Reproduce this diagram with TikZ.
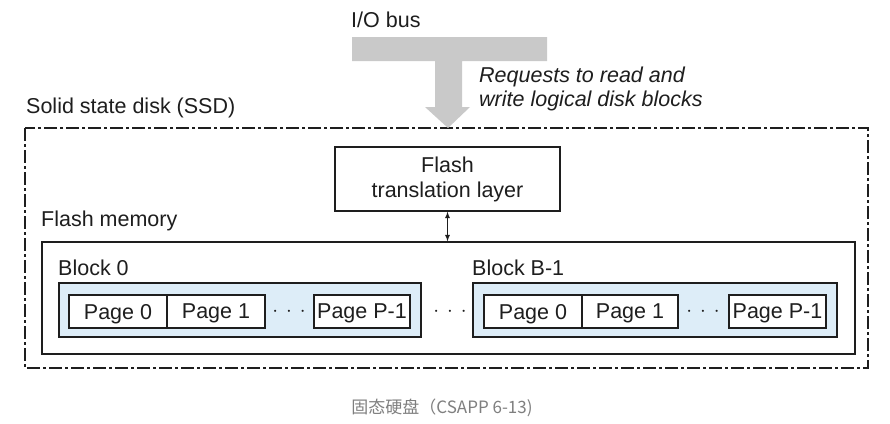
\documentclass[tikz,border=0pt]{standalone}
\usepackage{fontspec}
\setmainfont{Liberation Sans}
\newfontfamily\cjk{Noto Sans CJK SC}
\usepackage{tikz}

\definecolor{ink}{HTML}{1E1E1E}
\definecolor{busgray}{HTML}{C9C9C9}
\definecolor{blockblue}{HTML}{DDEDF8}
\definecolor{capgray}{HTML}{7F7F7F}

\tikzset{
    lbl/.style={font=\fontsize{21.5}{25}\selectfont, text=ink, inner sep=0pt},
    page/.style={lbl, draw=ink, line width=1.3pt, fill=white, minimum height=33pt, text depth=0pt},
    blockbox/.style={draw=ink, line width=1.3pt, fill=blockblue, minimum height=54pt},
    dashdot/.style={line width=1.6pt, dash pattern=on 13pt off 3pt on 3pt off 3pt}
}

\begin{document}
\begin{tikzpicture}[x=1pt,y=-1pt]
    \useasboundingbox (0,0) rectangle (890,423);
    \fill[white] (0,0) rectangle (890,423);

    \draw[dashdot,draw=ink] (25,128) rectangle (868,368);
    \fill[busgray] (352,37) -- (547,37) -- (547,61) -- (462,61) -- (462,107) -- (470,107)
        -- (448,128) -- (425,107) -- (435,107) -- (435,61) -- (352,61) -- cycle;

    \node[lbl,anchor=west] (bus) at (351,20) {I/O bus};
    \node[lbl,anchor=west,align=left,font=\fontsize{21.5}{24}\selectfont\itshape] (req) at (479,89)
        {Requests to read and\\write logical disk blocks};
    \node[lbl,anchor=west] (ssd) at (26,108) {Solid state disk (SSD)};

    \node[draw=ink,line width=1.3pt,fill=white,lbl,align=center,minimum width=225pt,minimum height=64pt] (ftl) at (447.5,179)
        {Flash\\translation layer};
    \node[lbl,anchor=west] (memlbl) at (41,221) {Flash memory};
    \node[draw=ink,line width=1.3pt,minimum width=813pt,minimum height=112pt] (mem) at (448.5,298) {};
    \draw[<->,>=latex,line width=1.2pt,draw=ink] (ftl.south) -- (ftl.south |- mem.north);

    \node[lbl,anchor=west] (blk0lbl) at (58,268) {Block 0};
    \node[blockbox,minimum width=362pt] (blk0) at (240,310) {};
    \node[page,minimum width=98pt] (b0p0) at (118,311.5) {Page 0};
    \node[page,minimum width=98pt] (b0p1) at (216,311.5) {Page 1};
    \node[lbl] (b0dots) at (289,312) {$\cdot\,\cdot\,\cdot$};
    \node[page,minimum width=96pt] (b0pn) at (362,311.5) {Page P-1};

    \node[lbl] (blkdots) at (450,312) {$\cdot\,\cdot\,\cdot$};

    \node[lbl,anchor=west] (blknlbl) at (472,268) {Block B-1};
    \node[blockbox,minimum width=364pt] (blkn) at (655,310) {};
    \node[page,minimum width=98pt] (bnp0) at (533,311.5) {Page 0};
    \node[page,minimum width=96pt] (bnp1) at (630,311.5) {Page 1};
    \node[lbl] (bndots) at (703,312) {$\cdot\,\cdot\,\cdot$};
    \node[page,minimum width=97pt] (bnpn) at (777.5,311.5) {Page P-1};

    \node[font=\cjk\fontsize{17}{20}\selectfont,text=capgray,inner sep=0pt] (cap) at (442,408) {固态硬盘（CSAPP 6-13)};
\end{tikzpicture}
\end{document}
